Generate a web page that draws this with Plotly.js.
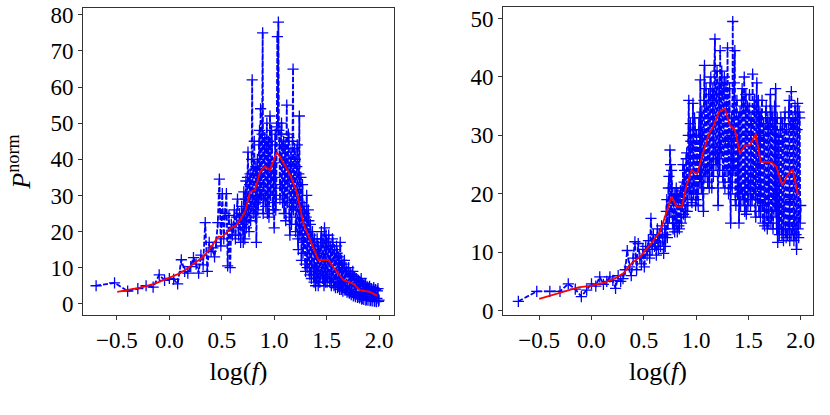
<!DOCTYPE html>
<html><head><meta charset="utf-8">
<script src="https://cdn.plot.ly/plotly-3.0.1.min.js"></script>
<style>html,body{margin:0;padding:0;background:#fff}#chart{width:830px;height:415px}</style>
</head><body><div id="chart"></div>
<script>
// log10 of frequency (shared by both panels)
const logF = [
 -0.699,-0.523,-0.398,-0.301,-0.222,-0.155,-0.097,-0.046,0.000,0.041,
 0.079,0.114,0.146,0.176,0.204,0.230,0.255,0.279,0.301,0.322,
 0.342,0.362,0.380,0.398,0.415,0.431,0.447,0.462,0.477,0.491,
 0.505,0.519,0.531,0.544,0.556,0.568,0.580,0.591,0.602,
 0.61,0.62,0.63,0.64,0.65,0.66,0.67,0.68,0.69,0.70,
 0.705,0.71,0.715,0.72,0.725,0.73,0.735,0.74,0.745,0.75,0.755,0.76,0.765,0.77,0.775,0.78,0.785,0.79,0.795,0.80,
 0.805,0.81,0.815,0.82,0.825,0.83,0.835,0.84,0.845,0.85,0.855,0.86,0.865,0.87,0.875,0.88,0.885,0.89,0.895,0.90,
 0.905,0.91,0.915,0.92,0.925,0.93,0.935,0.94,0.945,0.95,0.955,0.96,0.965,0.97,0.975,0.98,0.985,0.99,0.995,1.00,
 1.005,1.01,1.015,1.02,1.025,1.03,1.035,1.04,1.045,1.05,1.055,1.06,1.065,1.07,1.075,1.08,1.085,1.09,1.095,1.10,
 1.105,1.11,1.115,1.12,1.125,1.13,1.135,1.14,1.145,1.15,1.155,1.16,1.165,1.17,1.175,1.18,1.185,1.19,1.195,1.20,
 1.205,1.21,1.215,1.22,1.225,1.23,1.235,1.24,1.245,1.25,1.255,1.26,1.265,1.27,1.275,1.28,1.285,1.29,1.295,1.30,
 1.305,1.31,1.315,1.32,1.325,1.33,1.335,1.34,1.345,1.35,1.355,1.36,1.365,1.37,1.375,1.38,1.385,1.39,1.395,1.40,
 1.405,1.41,1.415,1.42,1.425,1.43,1.435,1.44,1.445,1.45,1.455,1.46,1.465,1.47,1.475,1.48,1.485,1.49,1.495,1.50,
 1.505,1.51,1.515,1.52,1.525,1.53,1.535,1.54,1.545,1.55,1.555,1.56,1.565,1.57,1.575,1.58,1.585,1.59,1.595,1.60,
 1.605,1.61,1.615,1.62,1.625,1.63,1.635,1.64,1.645,1.65,1.655,1.66,1.665,1.67,1.675,1.68,1.685,1.69,1.695,1.70,
 1.705,1.71,1.715,1.72,1.725,1.73,1.735,1.74,1.745,1.75,1.755,1.76,1.765,1.77,1.775,1.78,1.785,1.79,1.795,1.80,
 1.805,1.81,1.815,1.82,1.825,1.83,1.835,1.84,1.845,1.85,1.855,1.86,1.865,1.87,1.875,1.88,1.885,1.89,1.895,1.90,
 1.905,1.91,1.915,1.92,1.925,1.93,1.935,1.94,1.945,1.95,1.955,1.96,1.965,1.97,1.975,1.98,1.985,1.99,1.995,2.00
];
// left panel normalised power
const leftP = [
 5.0,5.8,3.5,4.2,5.0,4.6,8.0,6.5,7.0,6.8,
 5.5,12.2,9.0,8.5,10.3,12.8,11.0,8.5,13.5,10.8,
 22.5,9.0,17.0,14.5,15.5,13.0,17.0,22.5,34.5,16.0,
 30.5,18.0,25.0,30.5,10.5,24.5,10.0,22.0,19.0,
 21,26,18,24,29,19,25,17,27,22,
 17,31,23,18,29,34,21,24,35,42,26,20,33,36,23,27,40,62,29,25,
 37,45,28,24,38,17,31,40,26,28,44,48,29,54,36,30,47,75,25,33,
 41,46,29,27,43,50,25,31,45,24,38,52,30,35,48,44,28,26,39,21,
 35,47,26,30,49,74,50,78,48,44,29,33,47,50,32,28,43,45,25,36,
 44,23,39,55,28,34,47,46,24,19,38,42,22,27,45,65,26,31,43,40,
 20,22,38,44,18,15,36,52,19,26,35,12,28,33,14,17,27,25,11,9,
 24,30,10,14,26,23,9,8,22,19,7,11,20,17,8,6,18,15,5,10,
 7,18,9,5,16,14,6,8,17,20,9,7,18,13,5,21,11,6,19,16,
 6,9,17,19,7,6,16,15,5,8,18,17,6,5,15,12,4.5,7,16,14,
 4.5,5,13,11,4,17,6,4,12,10,3.5,6,11,12,3.8,4,10,9,3.2,5,
 9,10,3,3,8.5,8,2.5,4,8,9,2.2,2.5,7.5,7,2,3.5,7,6.5,1.8,2,
 6.5,6,1.6,2,6,7,1.3,1.5,5.5,5,1.2,3,5.2,5.5,1,1.2,4.8,4.5,1,2.5,
 4.5,4.8,0.9,1,4.2,4,0.8,2,4,4.5,0.7,0.8,3.9,3.8,0.6,1.5,3.6,4.2,0.7,1
];
// right panel normalised power
const rightP = [
 1.6,3.3,3.3,3.3,4.6,3.7,2.4,3.5,4.6,4.2,
 5.8,4.5,5.0,5.8,5.2,3.8,6.0,5.0,5.5,7.0,
 10.3,7.5,6.0,9.0,11.8,7.0,11.5,9.0,8.0,10.5,
 7.5,11.0,9.5,12.0,9.0,15.8,10.5,13.0,11.0,
 12,9.5,14,10.5,13,11,14.5,12.5,9.8,14,
 11,13,17,19,12.5,15,21,23,16,27.5,25,17,24,21,15,14,19,20,13.5,16,
 19,21,15,13.5,20,19,14.5,14,19.5,20.5,16,15,21,18,25,16.5,22,24,16,17,
 26,27,17,18,30,36,21,20,32,29,19,18.5,28,35.5,20,22,33,31,18,19,
 30,26,20,18,31,33,22,39.5,25,21,34,30,20,17,36,42,23,24,38,35,
 24,22,33,37,21,26,39,40,25,21,36,38,23,28,42,46.5,27,25,37,41,
 26,18,32,39,24,44.5,28,27,41,37,23,22,38,40,21,29,39,35,24,45,
 28,20,34,38,22,15,30,33,21,49.5,26,24,39,44.5,19,18,34,36,20,27,
 33,15,29,34,18,21,36,38,20,19,35,40,17,24,37,16.5,30,35,18,22,
 34,37,21,18,33,32,19,40.5,23,20,35,36,17,16,34,39,19,25,36,17,
 30,34,16,21,33,36,18,15,32,29,14.5,19,34,35,17,14,33,31,15,22,
 32,37,15,16,34,33,14,20,31,35,17,38,19,14,33,11.7,28,30,13,18,
 31,33,14,13,32,29,12,17,33,34,14,12.5,31,27,13,15,34,36,12,19,
 32,37.5,13,14,33,32,12,16,35,34,13,10.5,31,35.5,14,12.5,34,33,15,18
];
// smoothed curves (red)
const leftSmoothX = [-0.497,-0.392,-0.28,-0.137,0.006,0.1,0.213,0.324,0.387,0.467,0.508,0.578,0.642,0.721,0.769,0.817,0.865,0.912,0.96,1.024,1.055,1.151,1.215,1.278,1.421,1.517,1.565,1.66,1.755,1.819,1.914,1.985];
const leftSmooth = [3.3,3.8,4.5,5.6,7.3,8.4,10.7,13.0,15.3,18.6,18.6,20.8,21.8,25.3,30.9,31.5,36.5,38.0,37.0,41.9,40.7,35.7,31.0,22.3,12.1,12.1,10.1,6.6,5.5,3.8,3.3,2.2];
const rightSmoothX = [-0.5,-0.316,-0.125,0.002,0.129,0.224,0.304,0.383,0.464,0.57,0.655,0.766,0.814,0.862,0.91,0.957,1.01,1.06,1.116,1.163,1.218,1.275,1.323,1.37,1.418,1.466,1.514,1.571,1.616,1.72,1.768,1.825,1.873,1.921,1.974];
const rightSmooth = [2.0,3.0,4.0,4.3,4.85,5.5,6.4,8.1,9.2,11.5,13.5,19.5,17.8,17.7,21.5,24.0,23.4,26.6,30.0,31.5,34.0,34.6,31.7,31.0,26.9,28.3,28.3,30.2,25.5,25.4,24.6,21.4,23.2,24.2,19.8];

const xTicks = [-0.5,0,0.5,1,1.5,2];
const xTickText = ['\u22120.5','0.0','0.5','1.0','1.5','2.0'];
const leftYTicks = [0,10,20,30,40,50,60,70,80];
const rightYTicks = [0,10,20,30,40,50];

const FONT = 'Liberation Serif, Times New Roman, serif';
const blueTrace = (x, y, xa, ya) => ({
  x: x, y: y, xaxis: xa, yaxis: ya, type: 'scatter', mode: 'lines+markers',
  line: {color: '#0000ff', width: 1.8, dash: '5px,2px'},
  marker: {symbol: 'cross-thin', size: 8, color: '#0000ff', line: {color: '#0000ff', width: 1.3}},
  showlegend: false, hoverinfo: 'skip'
});
const redTrace = (x, y, xa, ya) => ({
  x: x, y: y, xaxis: xa, yaxis: ya, type: 'scatter', mode: 'lines',
  line: {color: '#ff0000', width: 1.8}, showlegend: false, hoverinfo: 'skip'
});

const data = [
  blueTrace(logF, leftP, 'x', 'y'),
  redTrace(leftSmoothX, leftSmooth, 'x', 'y'),
  blueTrace(logF, rightP, 'x2', 'y2'),
  redTrace(rightSmoothX, rightSmooth, 'x2', 'y2')
];

const axisBase = {
  showline: true, mirror: true, linecolor: '#333', linewidth: 1,
  ticks: 'outside', ticklen: 4, tickwidth: 1, tickcolor: '#333',
  showgrid: false, zeroline: false, automargin: false,
  tickfont: {family: FONT, size: 23, color: '#000'}
};
const xTitle = {text: 'log(<i>f</i>)', font: {family: FONT, size: 26, color: '#000'}, standoff: 10};

const layout = {
  width: 830, height: 415,
  margin: {l: 0, r: 0, t: 0, b: 0},
  paper_bgcolor: '#fff', plot_bgcolor: '#fff',
  xaxis: Object.assign({}, axisBase, {domain: [0.1, 0.4747], range: [-0.824, 2.143], tickvals: xTicks, ticktext: xTickText, anchor: 'y', title: xTitle}),
  yaxis: Object.assign({}, axisBase, {domain: [0.241, 0.9807], range: [-3.1, 81.9], tickvals: leftYTicks, anchor: 'x',
    title: {text: '<i>P</i><sup>norm</sup>', font: {family: FONT, size: 26, color: '#000'}, standoff: 12}}),
  xaxis2: Object.assign({}, axisBase, {domain: [0.606, 0.9795], range: [-0.846, 2.117], tickvals: xTicks, ticktext: xTickText, anchor: 'y2', title: xTitle}),
  yaxis2: Object.assign({}, axisBase, {domain: [0.241, 0.982], range: [-0.74, 51.9], tickvals: rightYTicks, anchor: 'x2'})
};

Plotly.newPlot('chart', data, layout, {displayModeBar: false, staticPlot: true});
</script>
</body></html>
